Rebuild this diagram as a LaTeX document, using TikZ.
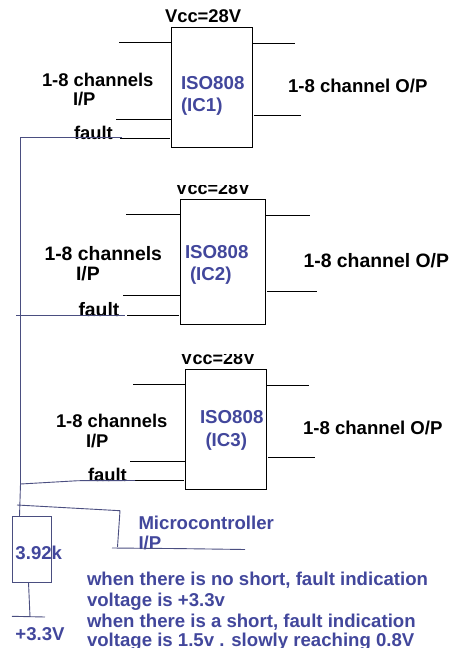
\documentclass[tikz,border=0pt]{standalone}
\usepackage{fontspec}
\setmainfont{Liberation Sans}
\definecolor{wireblue}{HTML}{4A4E80}
\definecolor{textblue}{HTML}{42479C}
\tikzset{
  ic/.style={draw=black,line width=0.9pt,fill=none,inner sep=0pt,outer sep=0pt,minimum width=0pt},
  pin/.style={draw=black,line width=0.9pt},
  wire/.style={draw=wireblue,line width=0.9pt},
  lbl/.style={anchor=base west,inner sep=0pt,outer sep=0pt,font=\fontsize{18.4}{20}\bfseries\selectfont,text=black},
  lblb/.style={lbl,font=\fontsize{19.4}{21}\bfseries\selectfont},
  lblc/.style={lbl,font=\fontsize{18}{20}\bfseries\selectfont},
  blu/.style={lbl,text=textblue,font=\fontsize{18.7}{20}\bfseries\selectfont},
  blus/.style={lbl,text=textblue,font=\fontsize{18.6}{20}\bfseries\selectfont},
}
\begin{document}
\begin{tikzpicture}[x=1pt,y=-1pt]
\clip (0,0) rectangle (470,648);
\fill[white] (0,0) rectangle (470,648);
% IC boxes
\node[ic,minimum width=81pt,minimum height=119.5pt] (ic1) at (212,87.25) {};
\node[ic,minimum width=85pt,minimum height=125pt] (ic2) at (223,261.8) {};
\node[ic,minimum width=81pt,minimum height=119.7pt] (ic3) at (226,429.15) {};
% IC1 pin ends
\coordinate (a1) at (119,42.5); \coordinate (a1e) at (171.5,42.5);
\coordinate (a2) at (116,119); \coordinate (a2e) at (171.5,119);
\coordinate (a3) at (120,138); \coordinate (a3e) at (170,138);
\coordinate (a4) at (252.5,43); \coordinate (a4e) at (295,43);
\coordinate (a5) at (254,115.5); \coordinate (a5e) at (301,115.5);
\draw[pin] (a1)--(a1e); \draw[pin] (a2)--(a2e); \draw[pin] (a3)--(a3e);
\draw[pin] (a4)--(a4e); \draw[pin] (a5)--(a5e);
% IC2 pin ends
\coordinate (b1) at (126,214); \coordinate (b1e) at (180.5,214);
\coordinate (b2) at (123,295.3); \coordinate (b2e) at (180.5,295.3);
\coordinate (b3) at (127,315.5); \coordinate (b3e) at (179,315.5);
\coordinate (b4) at (265.5,215); \coordinate (b4e) at (310,215);
\coordinate (b5) at (267,291); \coordinate (b5e) at (317,291);
\draw[pin] (b1)--(b1e); \draw[pin] (b2)--(b2e); \draw[pin] (b3)--(b3e);
\draw[pin] (b4)--(b4e); \draw[pin] (b5)--(b5e);
% IC3 pin ends
\coordinate (c1) at (133,384); \coordinate (c1e) at (185.5,384);
\coordinate (c2) at (130,461.5); \coordinate (c2e) at (185.5,461.5);
\coordinate (c3) at (135,480.5); \coordinate (c3e) at (184,480.5);
\coordinate (c4) at (266.5,385.5); \coordinate (c4e) at (309,385.5);
\coordinate (c5) at (268,457); \coordinate (c5e) at (315,457);
\draw[pin] (c1)--(c1e); \draw[pin] (c2)--(c2e); \draw[pin] (c3)--(c3e);
\draw[pin] (c4)--(c4e); \draw[pin] (c5)--(c5e);
% IC1 text
\node[lbl] (vcc1) at (165,22.6) {Vcc=28V};
\node[lbl] (in1) at (42,86) {1-8 channels};
\node[lbl] (ip1) at (73,105) {I/P};
\node[blu] (iso1) at (181,89) {ISO808};
\node[blu] (nm1) at (181,111) {(IC1)};
\node[lbl,font=\fontsize{18.6}{20}\bfseries\selectfont] (out1) at (288,92.7) {1-8 channel O/P};
\node[lbl] (f1) at (74,139) {fault};
% IC2 text
\begin{scope}
\clip (0,185) rectangle (470,198);
\node[lblc] (vcc2) at (175.5,194.5) {Vcc=28V};
\end{scope}
\node[lblb] (in2) at (44.5,260) {1-8 channels};
\node[lblb] (ip2) at (76,280) {I/P};
\node[blu] (iso2) at (185,258.7) {ISO808};
\node[blu] (nm2) at (190,280.7) {(IC2)};
\node[lblb] (out2) at (303.5,267.7) {1-8 channel O/P};
\node[lblb] (f2) at (78.5,316) {fault};
% IC3 text
\begin{scope}
\clip (0,354.8) rectangle (470,368);
\node[lblc] (vcc3) at (180.5,364.3) {Vcc=28V};
\end{scope}
\node[lbl] (in3) at (56,427) {1-8 channels};
\node[lbl] (ip3) at (86,447) {I/P};
\node[blu] (iso3) at (200,423) {ISO808};
\node[blu] (nm3) at (205.5,446) {(IC3)};
\node[lbl,font=\fontsize{18.6}{20}\bfseries\selectfont] (out3) at (303,434.7) {1-8 channel O/P};
\node[lbl] (f3) at (88,481) {fault};
% Resistor
\node[draw=wireblue,line width=0.9pt,inner sep=0pt,outer sep=0pt,minimum width=39pt,minimum height=66pt] (res) at (32,549.3) {};
\node[blus] (rv) at (15.5,559.3) {3.92k};
\node[blus] (sup) at (15.5,640) {+3.3V};
\node[blus] (mc1) at (138.5,529) {Microcontroller};
\node[blus] (mc2) at (138.5,549) {I/P};
\node[blus] (n1) at (87,585.7) {when there is no short, fault indication};
\node[blus] (n2) at (87,606) {voltage is +3.3v};
\node[blus] (n3) at (87,627.3) {when there is a short, fault indication};
\node[blus] (n4) at (87,646.9) {voltage is 1.5v . slowly reaching 0.8V};
% Blue wiring
\coordinate (w1) at (20.5,137.5); \coordinate (w1e) at (122,137.5);
\coordinate (w2) at (16,315.5); \coordinate (w2e) at (125,315.5);
\coordinate (w3) at (20.5,484); \coordinate (w3m) at (78,480.7); \coordinate (w3e) at (135,480.5);
\coordinate (w4) at (19.5,516.3);
\coordinate (m0) at (17,505); \coordinate (m1) at (120,510.7); \coordinate (m2) at (117.5,547);
\coordinate (h0) at (112,548); \coordinate (h1) at (180,548.6); \coordinate (h2) at (245,549.5);
\coordinate (g0) at (12,616.3); \coordinate (g1) at (45,617); \coordinate (g2) at (30,616.8);
\draw[wire] (w1e)--(w1)--(w3);
\draw[wire] (w2)--(w2e);
\draw[wire] (w3)--(w3m)--(w3e);
\draw[wire] (w3)--(w4);
\draw[wire] (m0)--(m1)--(m2);
\draw[wire] (h0)--(h1)--(h2);
\draw[wire] (res.south -| g2)++(-1.5,0)--(g2);
\draw[wire] (g0)--(g1);
\end{tikzpicture}
\end{document}
